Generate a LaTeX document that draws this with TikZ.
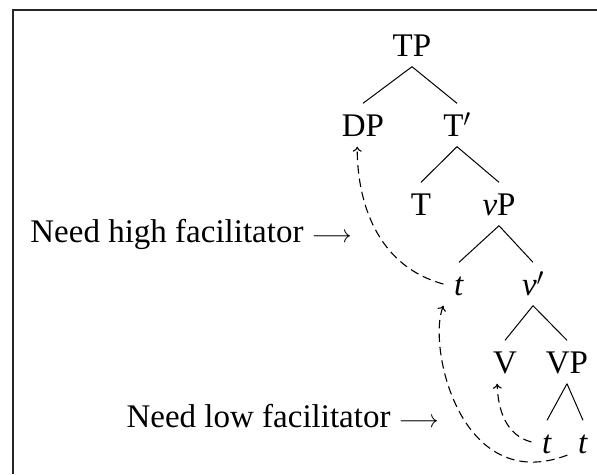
\documentclass[tikz,border=0pt]{standalone}
\usepackage{fontspec}
\setmainfont{Liberation Serif}
\usetikzlibrary{arrows.meta}
\begin{document}
\begin{tikzpicture}[x=1pt,y=-1pt,
  every node/.style={font=\fontsize{33}{40}\selectfont},
  cat/.style={inner sep=10.5pt, text height=22pt, text depth=0pt, anchor=base},
  branch/.style={line width=1pt},
  mv/.style={line width=1.1pt, dash pattern=on 8.5pt off 5pt, -{To[length=5pt,width=9pt]}},
  lbl/.style={inner sep=0pt, anchor=base east},
  frame/.style={line width=1.5pt, draw=black!85}]
\useasboundingbox (0,0) rectangle (597,474);
\draw[frame] (597,10) -- (13,10) -- (13,474);
% tree nodes
\node[cat] (TP) at (412,56) {TP};
\node[cat] (DP) at (363,136) {DP};
\node[cat] (Tb) at (457,136) {T$'$};
\node[cat] (T)  at (421,215) {T};
\node[cat] (vP) at (499,215) {\textit{v}P};
\node[cat] (t1) at (459,295) {\textit{t}};
\node[cat] (vb) at (533,295) {\textit{v}$'$};
\node[cat] (V)  at (505,373) {V};
\node[cat] (VP) at (567,373) {VP};
\node[cat] (t2) at (547,453) {\textit{t}};
\node[cat] (t3) at (583,453) {\textit{t}};
% branches
\draw[branch] (TP.south) -- (DP.north);
\draw[branch] (TP.south) -- (Tb.north);
\draw[branch] (Tb.south) -- (T.north);
\draw[branch] (Tb.south) -- (vP.north);
\draw[branch] (vP.south) -- (t1.north);
\draw[branch] (vP.south) -- (vb.north);
\draw[branch] (vb.south) -- (V.north);
\draw[branch] (vb.south) -- (VP.north);
\draw[branch] (VP.south) -- (t2.north);
\draw[branch] (VP.south) -- (t3.north);
% labels
\node[lbl] (hi) at (352,242) {Need high facilitator $\longrightarrow$};
\node[lbl] (lo) at (439,427) {Need low facilitator $\longrightarrow$};
% movement arrows
\draw[mv] (t1.west) to[out=165,in=-90] (DP.255);
\draw[mv] (t3.220) .. controls (460,496) and (427,346) .. (t1.south west);
\draw[mv] (t2.west) to[out=165,in=-88] (V.250);
\end{tikzpicture}
\end{document}
